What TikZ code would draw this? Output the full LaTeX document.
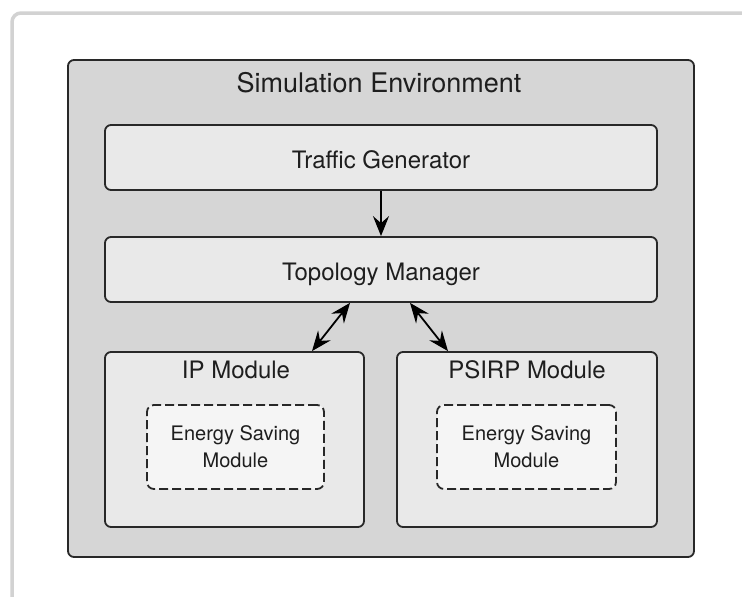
\documentclass[tikz,border=0pt]{standalone}
\usepackage{fontspec}
\setmainfont{TeX Gyre Heros}
\usetikzlibrary{arrows.meta}
\definecolor{framegray}{RGB}{210,210,210}
\definecolor{envfill}{RGB}{214,214,214}
\definecolor{boxfill}{RGB}{233,233,233}
\definecolor{innerfill}{RGB}{245,245,245}
\definecolor{edge}{RGB}{40,40,40}
\definecolor{ink}{RGB}{30,30,30}
\tikzset{
  envbox/.style={draw=edge, fill=envfill, line width=1.8pt, rounded corners=6pt, inner sep=0pt},
  modbox/.style={draw=edge, fill=boxfill, line width=1.8pt, rounded corners=6pt, inner sep=0pt},
  barbox/.style={modbox, text=ink, font=\fontsize{24}{28}\selectfont,
                 text height=21pt, text depth=0pt},
  savebox/.style={draw=edge, fill=innerfill, line width=1.8pt, rounded corners=7pt,
                  dash pattern=on 9pt off 4pt, inner sep=0pt, text=ink, align=center,
                  font=\fontsize{20}{27}\selectfont},
  titletext/.style={anchor=base, text=ink, inner sep=0pt, font=\fontsize{24}{28}\selectfont},
  link/.style={draw=black, line width=1.8pt,
               -{Stealth[length=20pt, width=16pt, inset=7pt]}},
  duallink/.style={draw=black, line width=1.8pt,
               {Stealth[length=20pt, width=16pt, inset=7pt]}-{Stealth[length=20pt, width=16pt, inset=7pt]}}
}
\begin{document}
\begin{tikzpicture}[x=1pt, y=-1pt]
  \useasboundingbox (0,0) rectangle (742,597);
  \fill[white] (0,0) rectangle (742,597);

  % light page frame, running off the right and bottom edges
  \begin{scope}
    \clip (0,0) rectangle (742,597);
    \draw[framegray, line width=3.5pt, rounded corners=9pt] (12,620) -- (12,13) -- (760,13);
  \end{scope}

  % simulation environment
  \node (env) [envbox, minimum width=626pt, minimum height=497pt] at (381,308.5) {};
  \node (envtitle) [titletext, font=\fontsize{27}{32}\selectfont] at (379,92) {Simulation Environment};

  % traffic generator and topology manager
  \node (traffic) [barbox, minimum width=552pt, minimum height=65pt] at (381,157.5) {Traffic Generator};
  \node (topo) [barbox, minimum width=552pt, minimum height=65pt] at (381,269.5) {Topology Manager};

  % protocol modules
  \node (ip) [modbox, minimum width=259pt, minimum height=175pt] at (234.5,439.5) {};
  \node (iptitle) [titletext] at (236,378) {IP Module};
  \node (psirp) [modbox, minimum width=260pt, minimum height=175pt] at (527,439.5) {};
  \node (psirptitle) [titletext] at (527,378) {PSIRP Module};

  % energy saving sub-modules
  \node (ipsave) [savebox, minimum width=177pt, minimum height=84pt] at (235.5,447) {Energy Saving\\Module};
  \node (psirpsave) [savebox, minimum width=179pt, minimum height=84pt] at (526.5,447) {Energy Saving\\Module};

  % connectors
  \draw[link] (traffic.south) -- (topo.north);
  \draw[duallink] ([xshift=-31pt]topo.south) -- ([xshift=77.5pt]ip.north);
  \draw[duallink] ([xshift=29pt]topo.south) -- ([xshift=-79pt]psirp.north);
\end{tikzpicture}
\end{document}
